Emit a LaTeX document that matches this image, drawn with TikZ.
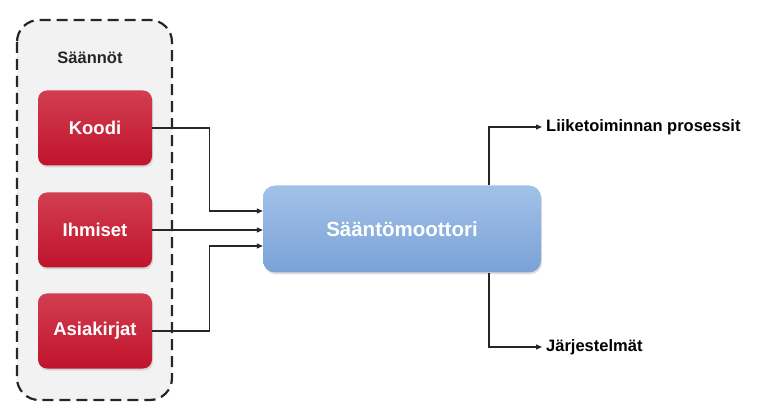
\documentclass[tikz,border=0pt]{standalone}
\usepackage{fontspec}
\setmainfont{Liberation Sans}
\usetikzlibrary{arrows.meta,shadows}

\tikzset{
  rulebox/.style={rounded corners=9pt, minimum width=114pt, minimum height=75pt,
    top color=redtop, bottom color=rulered,
    text=white, font=\fontsize{18.5}{20}\selectfont\bfseries,
    drop shadow={shadow xshift=1pt, shadow yshift=-2pt, opacity=0.25}},
  enginebox/.style={rounded corners=12pt, minimum width=278pt, minimum height=87pt,
    top color=engtop, bottom color=engbot, text=white,
    font=\fontsize{20.5}{22}\selectfont\bfseries,
    drop shadow={shadow xshift=1pt, shadow yshift=-2pt, opacity=0.25}},
  outlabel/.style={anchor=west, inner sep=4pt, font=\fontsize{16.5}{18}\selectfont\bfseries},
  arr/.style={-{Triangle[length=6pt,width=5pt]}, line width=1.2pt, black!85},
}
\definecolor{rulered}{HTML}{C0132C}
\definecolor{redtop}{HTML}{D23E50}
\definecolor{engtop}{HTML}{A2C1E8}
\definecolor{engbot}{HTML}{7AA2D6}
\definecolor{groupgray}{HTML}{F2F2F2}

\begin{document}
\begin{tikzpicture}[x=1pt, y=-1pt]
  \useasboundingbox (0,0) rectangle (768,419);

  % rule group
  \draw[line width=2.2pt, dash pattern=on 11pt off 6pt, black!85, fill=groupgray,
    rounded corners=22pt] (17,20) rectangle (172,400);
  \node[font=\fontsize{16.5}{18}\selectfont\bfseries, text=black!85] (title) at (90,58) {Säännöt};

  \node[rulebox] (koodi) at (95,128) {Koodi};
  \node[rulebox] (ihmiset) at (95,230) {Ihmiset};
  \node[rulebox] (asiakirjat) at (95,331) {Asiakirjat};

  % engine
  \node[enginebox] (engine) at (402,229) {Sääntömoottori};

  \node[outlabel] (liike) at (542,127) {Liiketoiminnan prosessit};
  \node[outlabel] (jarj) at (542,347) {Järjestelmät};

  % connectors
  \draw[arr] (koodi.east) -- ++(57,0) |- ([yshift=18pt]engine.west);
  \draw[arr] (ihmiset.east) -- (ihmiset.east -| engine.west);
  \draw[arr] (asiakirjat.east) -- ++(57,0) |- ([yshift=-17pt]engine.west);
  \draw[arr] ([xshift=87pt]engine.north) |- (liike.west);
  \draw[arr] ([xshift=87pt]engine.south) |- (jarj.west);
\end{tikzpicture}
\end{document}
